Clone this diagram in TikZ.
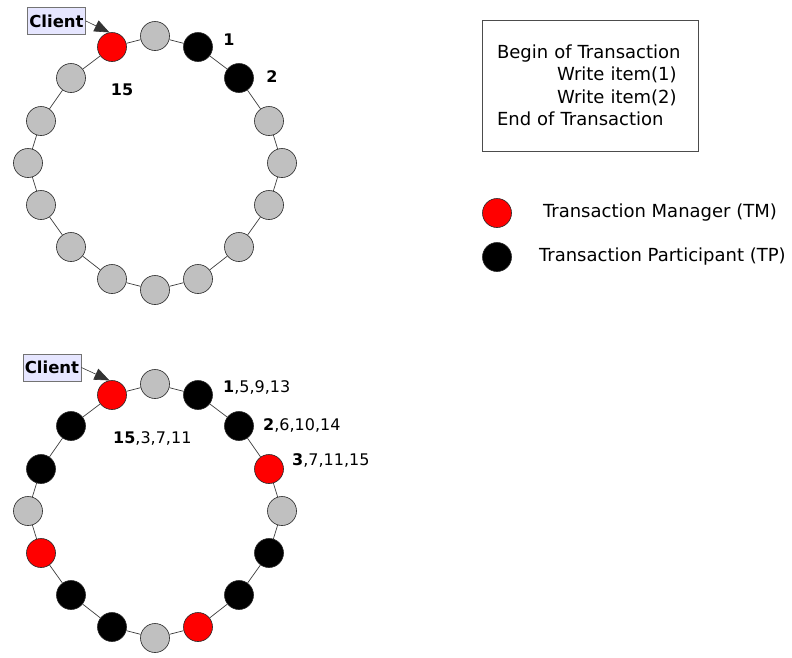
\documentclass[tikz,border=0pt]{standalone}
\usepackage{fontspec}
\setmainfont{DejaVu Sans}
\usetikzlibrary{positioning,calc,arrows.meta}
\definecolor{tmred}{RGB}{255,0,0}
\definecolor{idle}{RGB}{192,192,192}
\definecolor{clientbg}{RGB}{230,230,255}
\definecolor{ringline}{RGB}{60,60,60}

\tikzset{
  peer/.style={circle, draw=black!85, line width=0.6pt, minimum size=29pt, inner sep=0pt},
  ringedge/.style={draw=ringline, line width=0.7pt},
  clientbox/.style={draw=black!55, fill=clientbg, line width=0.8pt, minimum width=58pt,
    minimum height=27pt, inner sep=0pt, font=\fontsize{16.5}{18}\selectfont\bfseries},
  clientarrow/.style={draw=black!80, line width=0.6pt, -{Triangle[length=15pt,width=12pt]}},
  numlabel/.style={inner sep=0pt, font=\fontsize{16}{18}\selectfont},
  bodytext/.style={inner sep=0pt, font=\fontsize{18}{22.5}\selectfont}
}

\begin{document}
\begin{tikzpicture}[x=1pt,y=-1pt]
  \useasboundingbox (0,0) rectangle (792,657);

  % both rings, same layout: top one at (155,163), bottom one at (155,511)
  \foreach \k/\dx/\dy/\up/\low in {0/0/-127/idle/idle, 1/43/-116/black/black,
      2/84/-85/black/black, 3/114/-42/idle/tmred, 4/127/0/idle/idle,
      5/114/42/idle/black, 6/84/84/idle/black, 7/43/116/idle/tmred,
      8/0/127/idle/idle, 9/-43/116/idle/black, 10/-84/84/idle/black,
      11/-114/42/idle/tmred, 12/-127/0/idle/idle, 13/-114/-42/idle/black,
      14/-84/-85/idle/black, 15/-43/-116/tmred/tmred} {
    \node[peer, fill=\up] (t\k) at ($(155,163)+(\dx,\dy)$) {};
    \node[peer, fill=\low] (b\k) at ($(155,511)+(\dx,\dy)$) {};
  }
  \foreach \k in {0,...,15} {
    \pgfmathtruncatemacro{\nxt}{mod(\k+1,16)}
    \draw[ringedge] (t\k) -- (t\nxt);
    \draw[ringedge] (b\k) -- (b\nxt);
  }

  % clients
  \node[clientbox] (clienttop) at (56.5,21) {Client};
  \draw[clientarrow] (clienttop.east) -- (t15.100);
  \node[clientbox] (clientbot) at (52,367.5) {Client};
  \draw[clientarrow] (clientbot.east) -- (b15.100);

  % item numbers
  \node[numlabel, font=\fontsize{16}{18}\selectfont\bfseries] at (229,40) {1};
  \node[numlabel, font=\fontsize{16}{18}\selectfont\bfseries] at (272,77) {2};
  \node[numlabel, font=\fontsize{16}{18}\selectfont\bfseries] at (122,90) {15};
  \node[numlabel, anchor=west] at (223,387) {\textbf{1},5,9,13};
  \node[numlabel, anchor=west] at (263,425) {\textbf{2},6,10,14};
  \node[numlabel, anchor=west] at (292,460) {\textbf{3},7,11,15};
  \node[numlabel, anchor=west] at (113,438) {\textbf{15},3,7,11};

  % transaction
  \node[bodytext, draw=black!70, line width=0.8pt, minimum width=216pt, minimum height=131pt,
    text width=186pt, inner xsep=15pt, align=left] (txn) at (590,85.5)
    {Begin of Transaction\\
     \hspace*{60pt}Write item(1)\\
     \hspace*{60pt}Write item(2)\\
     End of Transaction};

  % legend
  \node[peer, fill=tmred] (legtm) at (497,213) {};
  \node[bodytext, right=31pt of legtm] {Transaction Manager (TM)};
  \node[peer, fill=black] (legtp) at (497,257) {};
  \node[bodytext, right=27pt of legtp] {Transaction Participant (TP)};
\end{tikzpicture}
\end{document}
